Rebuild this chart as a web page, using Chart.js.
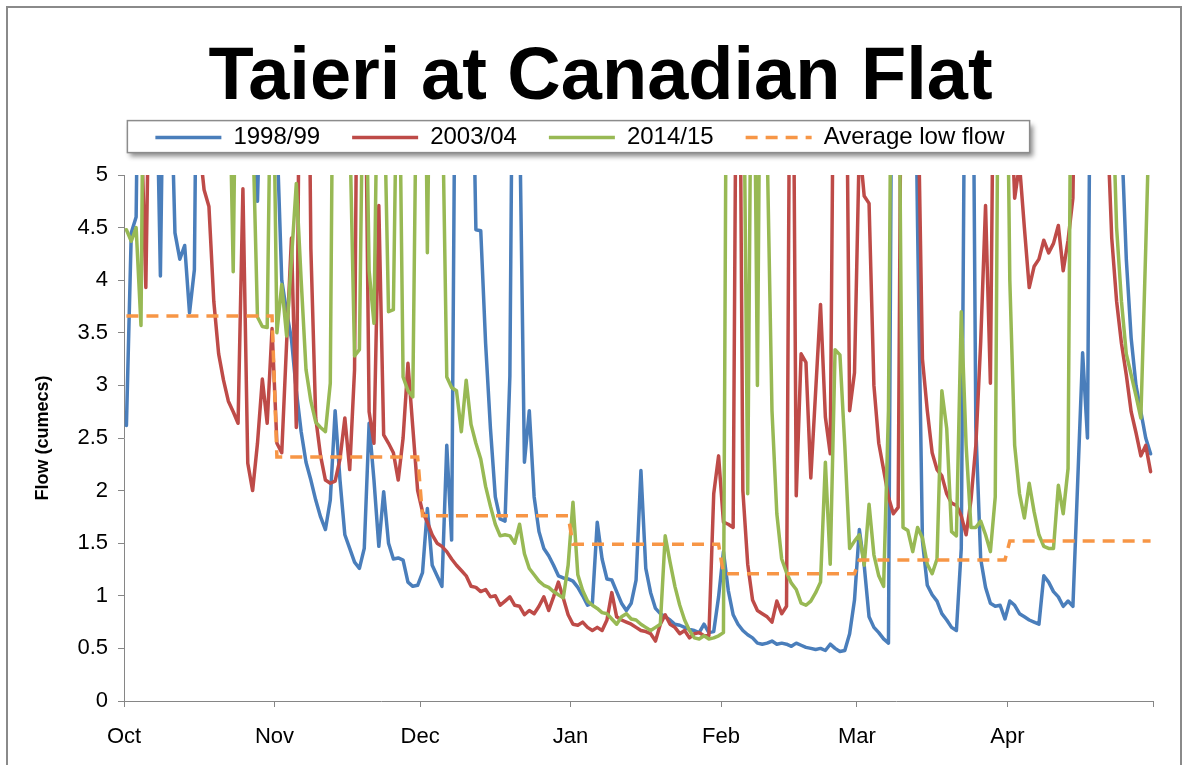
<!DOCTYPE html>
<html>
<head>
<meta charset="utf-8">
<script src="https://cdn.jsdelivr.net/npm/chart.js@4.4.1/dist/chart.umd.min.js"></script>
<style>
  html, body { margin: 0; padding: 0; background: #ffffff; }
  #wrap { position: relative; width: 1186px; height: 765px; overflow: hidden; background: #ffffff; }
  #frame { position: absolute; left: 6px; top: 6px; width: 1176px; height: 820px; border: 2px solid #8a8a8a; box-sizing: border-box; }
  #c { position: absolute; left: 0; top: 0; }
</style>
</head>
<body>
<div id="wrap">
  <div id="frame"></div>
  <canvas id="c" width="1186" height="765"></canvas>
</div>
<script>
// ---------------- DATA (day 0 = 1 October) ----------------
const monthLabels = ['Oct', 'Nov', 'Dec', 'Jan', 'Feb', 'Mar', 'Apr', ''];
const monthStartDays = [0, 31, 61, 92, 123, 151, 182, 212];
const yTickValues = [0, 0.5, 1, 1.5, 2, 2.5, 3, 3.5, 4, 4.5, 5];

const seriesNames = ['1998/99', '2003/04', '2014/15', 'Average low flow'];

const blueDays = [0,1,2,3,4,5,6,7,8,9,10,11,12,13,14,15,16,20,24,26,27,28,29,30,31,32,33,34,35,36,37,38,39,40,41,42,43,44,45,46,47,48,49,50,51,52,53,54,55,56,57,58,59,60,61,62,63,64,65,66,67,68,69,70,71,72,73,74,75,76,77,78,79,80,81,82,83,84,85,86,87,88,89,90,91,92,93,94,95,96,97,98,99,100,101,102,103,104,105,106,107,108,109,110,111,112,113,114,115,116,117,118,119,120,121,122,123,124,125,126,127,128,129,130,131,132,133,134,135,136,137,138,139,140,141,142,143,144,145,146,147,148,149,150,151,152,153,154,155,156,157,158,159,160,161,162,163,164,165,166,167,168,169,170,171,172,173,174,175,176,177,178,179,180,181,182,183,184,185,186,187,188,189,190,191,192,193,194,195,196,197,198,199,200,203,205,206,207,208,209,210,211];
const blueFlow = [2.62,4.45,4.6,8.5,11,9,6.5,4.04,7.5,6.2,4.45,4.2,4.33,3.69,4.1,9,12,10,8,5.6,4.75,6.5,9,7,5.4,4.0,3.7,3.44,2.95,2.56,2.27,2.1,1.91,1.75,1.63,1.91,2.76,2.1,1.58,1.45,1.32,1.26,1.45,2.64,2.1,1.47,1.99,1.5,1.35,1.36,1.34,1.13,1.09,1.1,1.22,1.83,1.29,1.19,1.09,2.43,1.53,8,14,10,7,4.48,4.47,3.4,2.59,1.94,1.73,1.71,3.09,9,5.6,2.27,2.76,1.94,1.61,1.45,1.38,1.29,1.19,1.17,1.16,1.14,1.08,1.0,0.91,0.93,1.7,1.35,1.16,1.15,1.04,0.93,0.86,0.93,1.15,2.19,1.26,1.03,0.88,0.83,0.8,0.77,0.73,0.72,0.7,0.68,0.67,0.65,0.73,0.65,0.66,0.99,1.42,1.05,0.82,0.73,0.67,0.63,0.6,0.55,0.54,0.55,0.57,0.54,0.55,0.54,0.52,0.55,0.53,0.51,0.5,0.49,0.5,0.48,0.54,0.5,0.47,0.48,0.64,0.96,1.63,1.29,0.8,0.7,0.65,0.59,0.55,9,12,10,9,8,4.5,1.52,1.1,1.01,0.95,0.83,0.77,0.7,0.67,1.45,8,9,2.6,1.35,1.08,0.93,0.9,0.91,0.78,0.95,0.91,0.83,0.8,0.77,0.75,0.73,1.19,1.13,1.04,0.99,0.9,0.95,0.9,2.1,3.31,2.5,9,12,10,5.4,4.2,3.45,3.0,2.75,2.5,2.35];

const redDays = [0,1,2,3,4,5,6,10,14,15,16,17,18,19,20,21,22,23,24,25,26,27,28,29,30,31,32,33,34,35,36,37,38,39,40,41,42,43,44,45,46,47,48,49,50,51,52,53,54,55,56,57,58,59,60,61,62,63,64,65,66,67,68,69,70,71,72,73,74,75,76,77,78,79,80,81,82,83,84,85,86,87,88,89,90,91,92,93,94,95,96,97,98,99,100,101,102,103,104,105,106,107,108,109,110,111,112,113,114,115,116,117,118,119,120,121,122,123,124,125,126,127,128,129,130,131,132,133,134,135,136,137,138,139,140,141,143,144,145,146,147,148,149,150,151,152,153,154,155,156,157,158,159,160,161,162,163,164,165,166,167,168,169,170,171,172,173,174,175,176,177,178,179,181,182,183,184,185,186,187,188,189,190,191,192,193,194,195,196,199,201,202,203,204,205,206,207,208,209,210,211];
const redFlow = [7,9,8,5.6,3.93,7,12,10,8,5.3,4.86,4.7,3.8,3.3,3.05,2.85,2.75,2.64,4.87,2.26,2.0,2.45,3.06,2.64,3.54,2.45,2.36,3.4,4.4,2.6,8,9,4.3,2.69,2.33,2.1,2.07,2.09,2.3,2.69,2.2,3.15,9,7,2.75,2.45,4.71,2.53,2.45,2.36,2.1,2.5,3.21,2.6,2.0,1.8,1.7,1.58,1.5,1.47,1.42,1.35,1.29,1.24,1.19,1.09,1.08,1.04,1.06,0.99,1.0,0.91,0.95,0.99,0.91,0.9,0.82,0.86,0.83,0.9,0.99,0.86,0.99,1.13,0.98,0.82,0.73,0.72,0.75,0.7,0.67,0.7,0.67,0.77,1.03,0.8,0.77,0.75,0.73,0.7,0.67,0.66,0.64,0.57,0.73,0.82,0.73,0.7,0.64,0.67,0.6,0.64,0.65,0.62,0.62,1.97,2.33,1.7,1.68,1.65,9,2.0,1.3,0.96,0.86,0.83,0.8,0.75,0.95,0.83,0.9,9,1.95,3.3,3.22,2.12,3.77,2.7,2.35,8,11,8,2.76,3.12,5.3,4.8,4.73,3.0,2.45,2.2,1.94,1.78,1.84,9,12,9,6,3.25,2.76,2.36,2.2,2.14,1.97,1.88,1.86,1.76,1.58,1.91,2.43,3.41,4.71,3.02,8,9,6,4.78,5.1,4.5,3.93,4.13,4.2,4.38,4.26,4.35,4.52,4.09,4.38,4.78,8,12,8,5.6,4.4,3.8,3.4,3.1,2.75,2.55,2.33,2.43,2.18];

const greenDays = [0,1,2,3,4,5,10,15,20,21,22,23,24,25,26,27,28,29,30,31,32,33,34,35,36,37,38,39,40,41,42,43,44,45,46,47,48,49,50,51,52,53,54,55,56,57,58,59,60,61,62,63,64,65,66,67,68,69,70,71,72,73,74,75,76,77,78,79,80,81,82,83,84,85,86,87,88,89,90,91,92,93,94,95,96,97,98,99,100,101,102,103,104,105,106,107,108,109,110,111,112,113,114,115,116,117,118,119,120,121,122,123,124,125,126,127,128,129,130,131,132,133,134,135,136,137,138,139,140,141,142,143,144,145,146,147,148,149,150,151,152,153,154,155,156,157,158,159,160,161,162,163,164,165,166,167,168,169,170,171,172,173,174,175,176,177,178,179,180,181,182,183,184,185,186,187,188,189,190,191,192,193,194,195,200,202,203,204,205,206,207,208,209,210,211];
const greenFlow = [4.48,4.37,4.5,3.57,9,12,14,10,8,6.5,4.08,8,10,7,5.5,3.65,3.56,3.55,7,3.5,3.96,3.47,4.2,4.92,4.0,3.15,2.85,2.65,2.6,2.56,3.02,9,12,8,5.5,3.28,3.34,7,4.09,3.59,7,6,3.7,3.72,7,3.08,2.95,2.89,7,9,4.26,8,10,6,3.08,2.98,2.95,2.56,3.05,2.63,2.45,2.3,2.04,1.85,1.68,1.57,1.58,1.57,1.5,1.68,1.4,1.26,1.2,1.14,1.1,1.08,1.04,1.01,0.98,1.29,1.89,1.2,1.05,0.95,0.91,0.88,0.84,0.83,0.78,0.73,0.8,0.83,0.78,0.77,0.73,0.7,0.67,0.7,0.73,1.57,1.32,1.09,0.91,0.77,0.67,0.6,0.59,0.62,0.59,0.6,0.62,0.65,10,12,9,7,1.97,8,3.0,9,5.3,2.76,1.78,1.35,1.22,1.12,1.06,0.93,0.91,0.95,1.03,1.13,2.27,1.3,3.34,3.29,2.43,1.45,1.52,1.58,1.29,1.87,1.39,1.19,1.09,2.76,9,7,1.65,1.62,1.42,1.65,1.55,1.3,1.21,1.35,2.95,2.59,1.61,1.57,3.7,2.43,1.65,1.65,1.71,1.58,1.42,1.94,9,8,4.0,2.43,1.97,1.74,2.07,1.8,1.58,1.47,1.45,1.45,2.05,1.78,2.21,9,14,9,6,4.5,3.8,3.3,3.1,2.9,2.69,4.3,6];

const avgDays = [0, 30, 31, 60, 61, 91, 92, 122, 123, 150, 151, 181, 182, 211];
const avgFlow = [3.66, 3.66, 2.32, 2.32, 1.76, 1.76, 1.49, 1.49, 1.21, 1.21, 1.34, 1.34, 1.52, 1.52];

// ---------------- CHART ----------------
const FONT = "'Liberation Sans', Arial, sans-serif";
const AXIS_GREY = '#868686';
const toPoints = (days, vals) => days.map((d, i) => ({ x: d, y: vals[i] }));

// nudges title / legend horizontally to match the original layout
const boxNudge = {
  id: 'boxNudge',
  afterLayout(chart) {
    if (chart.legend) { chart.legend.right -= 26; }
    if (chart.titleBlock) { chart.titleBlock.left += 15; }
  }
};

// framed legend with drop shadow
const legendFrame = {
  id: 'legendFrame',
  beforeDraw(chart) {
    const lg = chart.legend;
    if (!lg || !lg.legendHitBoxes || !lg.legendHitBoxes.length) return;
    const hb = lg.legendHitBoxes;
    const l = Math.min(...hb.map(h => h.left)) - 28;
    const r = Math.max(...hb.map(h => h.left + h.width)) + 25;
    const cy = hb[0].top + hb[0].height / 2;
    const t = cy - 17, b = cy + 15;
    const ctx = chart.ctx;
    ctx.save();
    ctx.shadowColor = 'rgba(0,0,0,0.45)';
    ctx.shadowBlur = 5;
    ctx.shadowOffsetX = 3;
    ctx.shadowOffsetY = 4;
    ctx.fillStyle = '#ffffff';
    ctx.fillRect(l, t, r - l, b - t);
    ctx.restore();
    ctx.save();
    ctx.strokeStyle = '#8c8c8c';
    ctx.lineWidth = 1.5;
    ctx.strokeRect(l, t, r - l, b - t);
    ctx.restore();
  }
};

const lineBase = { borderWidth: 3.5, pointRadius: 0, pointHoverRadius: 0, tension: 0, clip: 0, fill: false, borderJoinStyle: 'round', borderCapStyle: 'round' };

new Chart(document.getElementById('c'), {
  type: 'line',
  data: {
    datasets: [
      Object.assign({}, lineBase, { label: seriesNames[0], data: toPoints(blueDays, blueFlow), borderColor: '#4A7EBB', backgroundColor: '#4A7EBB', order: 3 }),
      Object.assign({}, lineBase, { label: seriesNames[1], data: toPoints(redDays, redFlow), borderColor: '#BE4B48', backgroundColor: '#BE4B48', order: 2 }),
      Object.assign({}, lineBase, { label: seriesNames[2], data: toPoints(greenDays, greenFlow), borderColor: '#98B954', backgroundColor: '#98B954', order: 1 }),
      Object.assign({}, lineBase, { label: seriesNames[3], data: toPoints(avgDays, avgFlow), borderColor: '#F79646', backgroundColor: '#F79646', borderDash: [12, 8], borderCapStyle: 'butt', borderJoinStyle: 'miter', order: 0 })
    ]
  },
  options: {
    responsive: false,
    animation: false,
    events: [],
    layout: { padding: 0 },
    plugins: {
      title: {
        display: true,
        text: 'Taieri at Canadian Flat',
        color: '#000000',
        font: { family: FONT, size: 74, weight: 'bold', lineHeight: 0.4 },
        padding: { top: 64, bottom: 0 }
      },
      subtitle: {
        display: true,
        text: ' ',
        color: 'rgba(0,0,0,0)',
        font: { family: FONT, size: 1, lineHeight: 1 },
        padding: { top: 0, bottom: 14.4 },
        weight: 500
      },
      legend: {
        display: true,
        position: 'top',
        labels: {
          usePointStyle: true,
          pointStyle: 'line',
          pointStyleWidth: 66,
          padding: 32,
          color: '#000000',
          font: { family: FONT, size: 24 },
          sort: (a, b) => a.datasetIndex - b.datasetIndex,
          generateLabels: (chart) => {
            const items = Chart.defaults.plugins.legend.labels.generateLabels(chart);
            return items.map((it) => {
              const ds = chart.data.datasets[it.datasetIndex];
              return Object.assign(it, {
                pointStyle: 'line',
                lineWidth: ds.borderWidth,
                lineDash: ds.borderDash || [],
                lineCap: 'butt',
                strokeStyle: ds.borderColor,
                fillStyle: ds.borderColor
              });
            });
          }
        }
      },
      tooltip: { enabled: false }
    },
    scales: {
      x: {
        type: 'linear',
        min: monthStartDays[0] - 0.5,
        max: monthStartDays[monthStartDays.length - 1] - 0.5,
        afterBuildTicks: (scale) => { scale.ticks = monthStartDays.map(d => ({ value: d - 0.5 })); },
        afterFit: (scale) => { scale.height = 64; scale.paddingRight = 33; },
        ticks: {
          autoSkip: false, maxRotation: 0, minRotation: 0, padding: 17,
          color: '#000000', font: { family: FONT, size: 22 },
          callback: (v, i) => monthLabels[i] || ''
        },
        grid: { display: true, drawOnChartArea: false, drawTicks: true, tickLength: 6, color: AXIS_GREY, lineWidth: 1 },
        border: { display: true, color: AXIS_GREY, width: 1 }
      },
      y: {
        type: 'linear',
        min: yTickValues[0],
        max: yTickValues[yTickValues.length - 1],
        afterBuildTicks: (scale) => { scale.ticks = yTickValues.map(v => ({ value: v })); },
        afterFit: (scale) => { scale.width = 124; },
        ticks: {
          padding: 10, color: '#000000', font: { family: FONT, size: 22 },
          callback: (v) => String(v)
        },
        grid: { display: true, drawOnChartArea: false, drawTicks: true, tickLength: 6, color: AXIS_GREY, lineWidth: 1 },
        border: { display: true, color: AXIS_GREY, width: 1 },
        title: {
          display: true, text: 'Flow (cumecs)', color: '#000000',
          font: { family: FONT, size: 18, weight: 'bold' },
          padding: { top: 32, bottom: 0 }
        }
      }
    }
  },
  plugins: [boxNudge, legendFrame]
});
</script>
</body>
</html>
